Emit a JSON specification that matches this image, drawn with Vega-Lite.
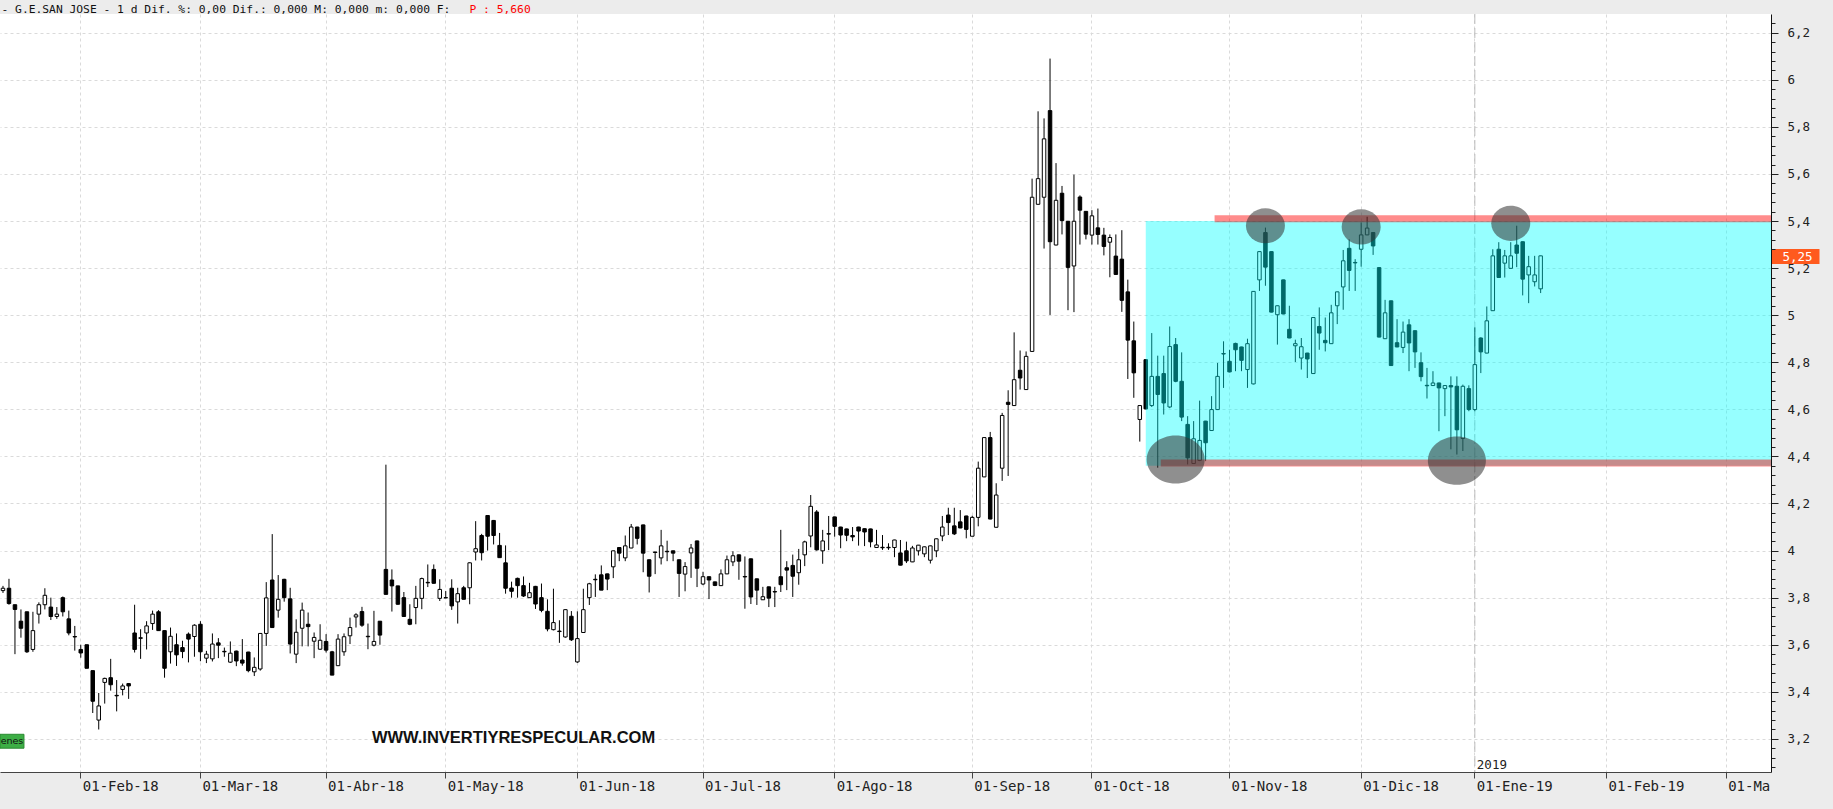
{
  "$schema": "https://vega.github.io/schema/vega-lite/v6.json",
  "width": 1771,
  "height": 758,
  "autosize": {"type": "none"},
  "padding": {"left": 0, "top": 14, "right": 62, "bottom": 37},
  "background": "#ececec",
  "config": {"view": {"fill": "#ffffff", "stroke": null}},
  "data": {"values": [
    {"date":"2018-01-15","open":3.83,"high":3.85,"low":3.82,"close":3.84},
    {"date":"2018-01-16","open":3.84,"high":3.88,"low":3.77,"close":3.775},
    {"date":"2018-01-17","open":3.77,"high":3.77,"low":3.56,"close":3.75},
    {"date":"2018-01-18","open":3.70,"high":3.75,"low":3.63,"close":3.67},
    {"date":"2018-01-19","open":3.74,"high":3.74,"low":3.565,"close":3.57},
    {"date":"2018-01-22","open":3.58,"high":3.74,"low":3.57,"close":3.66},
    {"date":"2018-01-23","open":3.73,"high":3.78,"low":3.69,"close":3.77},
    {"date":"2018-01-24","open":3.77,"high":3.84,"low":3.75,"close":3.81},
    {"date":"2018-01-25","open":3.76,"high":3.80,"low":3.705,"close":3.72},
    {"date":"2018-01-26","open":3.72,"high":3.76,"low":3.71,"close":3.73},
    {"date":"2018-01-29","open":3.80,"high":3.805,"low":3.72,"close":3.74},
    {"date":"2018-01-30","open":3.71,"high":3.745,"low":3.64,"close":3.65},
    {"date":"2018-01-31","open":3.635,"high":3.68,"low":3.575,"close":3.633},
    {"date":"2018-02-01","open":3.58,"high":3.60,"low":3.545,"close":3.565},
    {"date":"2018-02-02","open":3.60,"high":3.60,"low":3.50,"close":3.50},
    {"date":"2018-02-05","open":3.49,"high":3.49,"low":3.31,"close":3.36},
    {"date":"2018-02-06","open":3.28,"high":3.395,"low":3.24,"close":3.34},
    {"date":"2018-02-07","open":3.44,"high":3.46,"low":3.35,"close":3.457},
    {"date":"2018-02-08","open":3.46,"high":3.54,"low":3.405,"close":3.43},
    {"date":"2018-02-09","open":3.385,"high":3.45,"low":3.317,"close":3.383},
    {"date":"2018-02-12","open":3.41,"high":3.435,"low":3.385,"close":3.425},
    {"date":"2018-02-13","open":3.435,"high":3.437,"low":3.37,"close":3.425},
    {"date":"2018-02-14","open":3.65,"high":3.77,"low":3.567,"close":3.58},
    {"date":"2018-02-15","open":3.627,"high":3.666,"low":3.54,"close":3.63},
    {"date":"2018-02-16","open":3.65,"high":3.70,"low":3.58,"close":3.68},
    {"date":"2018-02-19","open":3.69,"high":3.745,"low":3.663,"close":3.73},
    {"date":"2018-02-20","open":3.74,"high":3.747,"low":3.66,"close":3.66},
    {"date":"2018-02-21","open":3.66,"high":3.66,"low":3.46,"close":3.50},
    {"date":"2018-02-22","open":3.57,"high":3.673,"low":3.52,"close":3.636},
    {"date":"2018-02-23","open":3.60,"high":3.648,"low":3.51,"close":3.557},
    {"date":"2018-02-26","open":3.588,"high":3.617,"low":3.543,"close":3.571},
    {"date":"2018-02-27","open":3.645,"high":3.652,"low":3.525,"close":3.624},
    {"date":"2018-02-28","open":3.635,"high":3.687,"low":3.549,"close":3.683},
    {"date":"2018-03-01","open":3.687,"high":3.70,"low":3.53,"close":3.57},
    {"date":"2018-03-02","open":3.543,"high":3.574,"low":3.522,"close":3.56},
    {"date":"2018-03-05","open":3.54,"high":3.648,"low":3.529,"close":3.603},
    {"date":"2018-03-06","open":3.608,"high":3.628,"low":3.543,"close":3.598},
    {"date":"2018-03-07","open":3.572,"high":3.588,"low":3.549,"close":3.570},
    {"date":"2018-03-08","open":3.526,"high":3.614,"low":3.523,"close":3.564},
    {"date":"2018-03-09","open":3.573,"high":3.575,"low":3.509,"close":3.531},
    {"date":"2018-03-12","open":3.535,"high":3.624,"low":3.511,"close":3.522},
    {"date":"2018-03-13","open":3.569,"high":3.57,"low":3.483,"close":3.49},
    {"date":"2018-03-14","open":3.485,"high":3.546,"low":3.467,"close":3.504},
    {"date":"2018-03-15","open":3.497,"high":3.65,"low":3.49,"close":3.648},
    {"date":"2018-03-16","open":3.648,"high":3.866,"low":3.595,"close":3.799},
    {"date":"2018-03-19","open":3.875,"high":4.07,"low":3.673,"close":3.673},
    {"date":"2018-03-20","open":3.747,"high":3.896,"low":3.715,"close":3.793},
    {"date":"2018-03-21","open":3.878,"high":3.88,"low":3.783,"close":3.80},
    {"date":"2018-03-22","open":3.795,"high":3.842,"low":3.563,"close":3.603},
    {"date":"2018-03-23","open":3.56,"high":3.708,"low":3.522,"close":3.653},
    {"date":"2018-03-26","open":3.67,"high":3.779,"low":3.593,"close":3.747},
    {"date":"2018-03-27","open":3.687,"high":3.737,"low":3.593,"close":3.677},
    {"date":"2018-03-28","open":3.615,"high":3.652,"low":3.543,"close":3.631},
    {"date":"2018-03-29","open":3.581,"high":3.687,"low":3.579,"close":3.619},
    {"date":"2018-04-03","open":3.614,"high":3.645,"low":3.567,"close":3.577},
    {"date":"2018-04-04","open":3.57,"high":3.574,"low":3.471,"close":3.471},
    {"date":"2018-04-05","open":3.511,"high":3.645,"low":3.511,"close":3.624},
    {"date":"2018-04-06","open":3.57,"high":3.648,"low":3.553,"close":3.634},
    {"date":"2018-04-09","open":3.638,"high":3.715,"low":3.603,"close":3.673},
    {"date":"2018-04-10","open":3.718,"high":3.734,"low":3.673,"close":3.727},
    {"date":"2018-04-11","open":3.741,"high":3.761,"low":3.676,"close":3.683},
    {"date":"2018-04-12","open":3.636,"high":3.69,"low":3.581,"close":3.634},
    {"date":"2018-04-13","open":3.598,"high":3.744,"low":3.593,"close":3.614},
    {"date":"2018-04-16","open":3.70,"high":3.70,"low":3.60,"close":3.641},
    {"date":"2018-04-17","open":3.92,"high":4.365,"low":3.814,"close":3.814},
    {"date":"2018-04-18","open":3.875,"high":3.92,"low":3.741,"close":3.85},
    {"date":"2018-04-19","open":3.85,"high":3.85,"low":3.77,"close":3.772},
    {"date":"2018-04-20","open":3.80,"high":3.824,"low":3.72,"close":3.72},
    {"date":"2018-04-23","open":3.708,"high":3.772,"low":3.683,"close":3.687},
    {"date":"2018-04-24","open":3.758,"high":3.85,"low":3.687,"close":3.797},
    {"date":"2018-04-25","open":3.797,"high":3.885,"low":3.751,"close":3.881},
    {"date":"2018-04-26","open":3.865,"high":3.941,"low":3.845,"close":3.863},
    {"date":"2018-04-27","open":3.92,"high":3.941,"low":3.86,"close":3.861},
    {"date":"2018-04-30","open":3.797,"high":3.878,"low":3.786,"close":3.835},
    {"date":"2018-05-02","open":3.80,"high":3.828,"low":3.798,"close":3.799},
    {"date":"2018-05-03","open":3.84,"high":3.878,"low":3.748,"close":3.765},
    {"date":"2018-05-04","open":3.782,"high":3.842,"low":3.69,"close":3.817},
    {"date":"2018-05-07","open":3.842,"high":3.85,"low":3.793,"close":3.793},
    {"date":"2018-05-08","open":3.842,"high":3.95,"low":3.772,"close":3.948},
    {"date":"2018-05-09","open":3.994,"high":4.125,"low":3.958,"close":4.008},
    {"date":"2018-05-10","open":4.064,"high":4.071,"low":3.958,"close":3.991},
    {"date":"2018-05-11","open":4.149,"high":4.15,"low":4.0,"close":4.061},
    {"date":"2018-05-14","open":4.128,"high":4.13,"low":4.026,"close":4.064},
    {"date":"2018-05-15","open":4.022,"high":4.075,"low":3.97,"close":3.97},
    {"date":"2018-05-16","open":3.948,"high":4.022,"low":3.817,"close":3.84},
    {"date":"2018-05-17","open":3.841,"high":3.868,"low":3.80,"close":3.827},
    {"date":"2018-05-18","open":3.882,"high":3.885,"low":3.80,"close":3.851},
    {"date":"2018-05-21","open":3.851,"high":3.890,"low":3.803,"close":3.807},
    {"date":"2018-05-22","open":3.80,"high":3.863,"low":3.80,"close":3.821},
    {"date":"2018-05-23","open":3.848,"high":3.85,"low":3.752,"close":3.773},
    {"date":"2018-05-24","open":3.80,"high":3.86,"low":3.738,"close":3.746},
    {"date":"2018-05-25","open":3.742,"high":3.793,"low":3.657,"close":3.667},
    {"date":"2018-05-28","open":3.664,"high":3.838,"low":3.661,"close":3.694},
    {"date":"2018-05-29","open":3.658,"high":3.704,"low":3.608,"close":3.656},
    {"date":"2018-05-30","open":3.633,"high":3.75,"low":3.63,"close":3.749},
    {"date":"2018-05-31","open":3.721,"high":3.743,"low":3.616,"close":3.621},
    {"date":"2018-06-01","open":3.527,"high":3.742,"low":3.523,"close":3.626},
    {"date":"2018-06-04","open":3.652,"high":3.838,"low":3.65,"close":3.749},
    {"date":"2018-06-05","open":3.80,"high":3.863,"low":3.769,"close":3.859},
    {"date":"2018-06-06","open":3.878,"high":3.899,"low":3.803,"close":3.876},
    {"date":"2018-06-07","open":3.897,"high":3.937,"low":3.832,"close":3.832},
    {"date":"2018-06-08","open":3.901,"high":3.902,"low":3.832,"close":3.879},
    {"date":"2018-06-11","open":3.931,"high":4.0,"low":3.883,"close":3.999},
    {"date":"2018-06-12","open":4.013,"high":4.014,"low":3.955,"close":3.989},
    {"date":"2018-06-13","open":3.969,"high":4.064,"low":3.955,"close":4.020},
    {"date":"2018-06-14","open":4.011,"high":4.113,"low":4.01,"close":4.10},
    {"date":"2018-06-15","open":4.10,"high":4.101,"low":4.026,"close":4.052},
    {"date":"2018-06-18","open":4.109,"high":4.11,"low":3.908,"close":3.989},
    {"date":"2018-06-19","open":3.961,"high":3.962,"low":3.822,"close":3.891},
    {"date":"2018-06-20","open":3.994,"high":3.994,"low":3.90,"close":3.992},
    {"date":"2018-06-21","open":3.969,"high":4.088,"low":3.941,"close":4.020},
    {"date":"2018-06-22","open":3.997,"high":4.042,"low":3.955,"close":3.995},
    {"date":"2018-06-25","open":3.999,"high":4.0,"low":3.955,"close":3.989},
    {"date":"2018-06-26","open":3.961,"high":3.962,"low":3.803,"close":3.903},
    {"date":"2018-06-27","open":3.90,"high":3.951,"low":3.827,"close":3.932},
    {"date":"2018-06-28","open":3.99,"high":4.028,"low":3.884,"close":4.011},
    {"date":"2018-06-29","open":4.041,"high":4.042,"low":3.845,"close":3.925},
    {"date":"2018-07-02","open":3.858,"high":3.91,"low":3.853,"close":3.889},
    {"date":"2018-07-03","open":3.889,"high":3.89,"low":3.794,"close":3.875},
    {"date":"2018-07-04","open":3.867,"high":3.868,"low":3.849,"close":3.852},
    {"date":"2018-07-05","open":3.851,"high":3.92,"low":3.85,"close":3.901},
    {"date":"2018-07-06","open":3.901,"high":3.979,"low":3.90,"close":3.961},
    {"date":"2018-07-09","open":3.952,"high":3.997,"low":3.934,"close":3.978},
    {"date":"2018-07-10","open":3.982,"high":3.983,"low":3.876,"close":3.955},
    {"date":"2018-07-11","open":3.89,"high":3.975,"low":3.753,"close":3.888},
    {"date":"2018-07-12","open":3.965,"high":3.966,"low":3.773,"close":3.803},
    {"date":"2018-07-13","open":3.88,"high":3.881,"low":3.769,"close":3.832},
    {"date":"2018-07-16","open":3.791,"high":3.846,"low":3.79,"close":3.804},
    {"date":"2018-07-17","open":3.846,"high":3.847,"low":3.76,"close":3.798},
    {"date":"2018-07-18","open":3.826,"high":3.846,"low":3.76,"close":3.824},
    {"date":"2018-07-19","open":3.889,"high":4.088,"low":3.824,"close":3.855},
    {"date":"2018-07-20","open":3.927,"high":3.955,"low":3.832,"close":3.917},
    {"date":"2018-07-23","open":3.937,"high":3.983,"low":3.803,"close":3.891},
    {"date":"2018-07-24","open":3.906,"high":4.007,"low":3.855,"close":3.961},
    {"date":"2018-07-25","open":3.982,"high":4.042,"low":3.934,"close":4.037},
    {"date":"2018-07-26","open":4.062,"high":4.236,"low":4.014,"close":4.188},
    {"date":"2018-07-27","open":4.164,"high":4.172,"low":4.0,"close":4.003},
    {"date":"2018-07-30","open":3.999,"high":4.088,"low":3.944,"close":4.041},
    {"date":"2018-07-31","open":4.072,"high":4.147,"low":4.002,"close":4.070},
    {"date":"2018-08-01","open":4.143,"high":4.144,"low":4.059,"close":4.103},
    {"date":"2018-08-02","open":4.10,"high":4.101,"low":4.01,"close":4.066},
    {"date":"2018-08-03","open":4.092,"high":4.093,"low":4.04,"close":4.065},
    {"date":"2018-08-06","open":4.064,"high":4.10,"low":4.04,"close":4.058},
    {"date":"2018-08-07","open":4.10,"high":4.101,"low":4.021,"close":4.083},
    {"date":"2018-08-08","open":4.093,"high":4.094,"low":4.019,"close":4.079},
    {"date":"2018-08-09","open":4.092,"high":4.093,"low":4.014,"close":4.037},
    {"date":"2018-08-10","open":4.013,"high":4.088,"low":4.012,"close":4.024},
    {"date":"2018-08-13","open":4.014,"high":4.066,"low":4.003,"close":4.012},
    {"date":"2018-08-14","open":4.014,"high":4.031,"low":4.003,"close":4.012},
    {"date":"2018-08-15","open":4.013,"high":4.046,"low":3.972,"close":4.045},
    {"date":"2018-08-16","open":3.99,"high":4.045,"low":3.937,"close":3.938},
    {"date":"2018-08-17","open":3.999,"high":4.038,"low":3.947,"close":3.956},
    {"date":"2018-08-20","open":3.952,"high":4.02,"low":3.951,"close":4.011},
    {"date":"2018-08-21","open":3.999,"high":4.024,"low":3.979,"close":4.023},
    {"date":"2018-08-22","open":3.986,"high":4.017,"low":3.972,"close":4.016},
    {"date":"2018-08-23","open":3.959,"high":4.021,"low":3.945,"close":4.02},
    {"date":"2018-08-24","open":3.999,"high":4.051,"low":3.972,"close":4.05},
    {"date":"2018-08-27","open":4.062,"high":4.147,"low":4.04,"close":4.10},
    {"date":"2018-08-28","open":4.151,"high":4.182,"low":4.066,"close":4.119},
    {"date":"2018-08-29","open":4.105,"high":4.182,"low":4.066,"close":4.071},
    {"date":"2018-08-30","open":4.122,"high":4.172,"low":4.095,"close":4.096},
    {"date":"2018-08-31","open":4.147,"high":4.148,"low":4.052,"close":4.09},
    {"date":"2018-09-03","open":4.061,"high":4.148,"low":4.061,"close":4.141},
    {"date":"2018-09-04","open":4.141,"high":4.378,"low":4.103,"close":4.350},
    {"date":"2018-09-05","open":4.313,"high":4.481,"low":4.312,"close":4.480},
    {"date":"2018-09-06","open":4.480,"high":4.504,"low":4.133,"close":4.134},
    {"date":"2018-09-07","open":4.099,"high":4.286,"low":4.098,"close":4.236},
    {"date":"2018-09-10","open":4.350,"high":4.585,"low":4.296,"close":4.574},
    {"date":"2018-09-11","open":4.630,"high":4.681,"low":4.317,"close":4.621},
    {"date":"2018-09-12","open":4.616,"high":4.927,"low":4.615,"close":4.726},
    {"date":"2018-09-13","open":4.766,"high":4.850,"low":4.684,"close":4.733},
    {"date":"2018-09-14","open":4.684,"high":4.846,"low":4.683,"close":4.825},
    {"date":"2018-09-17","open":4.846,"high":5.580,"low":4.845,"close":5.501},
    {"date":"2018-09-18","open":5.471,"high":5.866,"low":5.47,"close":5.580},
    {"date":"2018-09-19","open":5.501,"high":5.836,"low":5.283,"close":5.749},
    {"date":"2018-09-20","open":5.869,"high":6.090,"low":5.001,"close":5.312},
    {"date":"2018-09-21","open":5.298,"high":5.646,"low":5.297,"close":5.488},
    {"date":"2018-09-24","open":5.518,"high":5.549,"low":5.343,"close":5.402},
    {"date":"2018-09-25","open":5.399,"high":5.40,"low":5.021,"close":5.203},
    {"date":"2018-09-26","open":5.209,"high":5.597,"low":5.013,"close":5.399},
    {"date":"2018-09-27","open":5.502,"high":5.509,"low":5.300,"close":5.446},
    {"date":"2018-09-28","open":5.441,"high":5.442,"low":5.322,"close":5.344},
    {"date":"2018-10-01","open":5.340,"high":5.446,"low":5.300,"close":5.422},
    {"date":"2018-10-02","open":5.371,"high":5.453,"low":5.30,"close":5.343},
    {"date":"2018-10-03","open":5.340,"high":5.371,"low":5.254,"close":5.292},
    {"date":"2018-10-04","open":5.310,"high":5.343,"low":5.161,"close":5.330},
    {"date":"2018-10-05","open":5.251,"high":5.343,"low":5.172,"close":5.173},
    {"date":"2018-10-08","open":5.238,"high":5.361,"low":5.014,"close":5.063},
    {"date":"2018-10-09","open":5.099,"high":5.151,"low":4.729,"close":4.894},
    {"date":"2018-10-10","open":4.891,"high":4.973,"low":4.649,"close":4.755},
    {"date":"2018-10-11","open":4.557,"high":4.617,"low":4.463,"close":4.616},
    {"date":"2018-10-12","open":4.811,"high":4.812,"low":4.60,"close":4.602},
    {"date":"2018-10-15","open":4.616,"high":4.924,"low":4.61,"close":4.740},
    {"date":"2018-10-16","open":4.740,"high":4.828,"low":4.352,"close":4.663},
    {"date":"2018-10-17","open":4.752,"high":4.828,"low":4.578,"close":4.627},
    {"date":"2018-10-18","open":4.61,"high":4.952,"low":4.605,"close":4.867},
    {"date":"2018-10-19","open":4.875,"high":4.903,"low":4.715,"close":4.719},
    {"date":"2018-10-22","open":4.719,"high":4.842,"low":4.55,"close":4.567},
    {"date":"2018-10-23","open":4.536,"high":4.571,"low":4.366,"close":4.394},
    {"date":"2018-10-24","open":4.370,"high":4.55,"low":4.368,"close":4.475},
    {"date":"2018-10-25","open":4.383,"high":4.637,"low":4.38,"close":4.468},
    {"date":"2018-10-26","open":4.55,"high":4.551,"low":4.38,"close":4.458},
    {"date":"2018-10-29","open":4.510,"high":4.656,"low":4.508,"close":4.599},
    {"date":"2018-10-30","open":4.599,"high":4.797,"low":4.597,"close":4.740},
    {"date":"2018-10-31","open":4.837,"high":4.889,"low":4.691,"close":4.835},
    {"date":"2018-11-01","open":4.804,"high":4.853,"low":4.757,"close":4.759},
    {"date":"2018-11-02","open":4.880,"high":4.883,"low":4.762,"close":4.853},
    {"date":"2018-11-05","open":4.865,"high":4.866,"low":4.762,"close":4.808},
    {"date":"2018-11-06","open":4.769,"high":4.90,"low":4.691,"close":4.879},
    {"date":"2018-11-07","open":4.708,"high":5.102,"low":4.706,"close":5.101},
    {"date":"2018-11-08","open":5.150,"high":5.271,"low":5.103,"close":5.270},
    {"date":"2018-11-09","open":5.351,"high":5.372,"low":5.125,"close":5.204},
    {"date":"2018-11-12","open":5.270,"high":5.271,"low":5.012,"close":5.013},
    {"date":"2018-11-13","open":5.002,"high":5.041,"low":4.875,"close":5.040},
    {"date":"2018-11-14","open":5.150,"high":5.151,"low":5.004,"close":5.005},
    {"date":"2018-11-15","open":4.940,"high":5.040,"low":4.902,"close":4.903},
    {"date":"2018-11-16","open":4.870,"high":4.896,"low":4.801,"close":4.879},
    {"date":"2018-11-19","open":4.818,"high":4.903,"low":4.769,"close":4.866},
    {"date":"2018-11-20","open":4.839,"high":4.84,"low":4.733,"close":4.814},
    {"date":"2018-11-21","open":4.752,"high":4.991,"low":4.751,"close":4.990},
    {"date":"2018-11-22","open":4.952,"high":5.033,"low":4.853,"close":4.924},
    {"date":"2018-11-23","open":4.893,"high":4.990,"low":4.846,"close":4.883},
    {"date":"2018-11-26","open":4.879,"high":5.044,"low":4.878,"close":5.010},
    {"date":"2018-11-27","open":5.040,"high":5.10,"low":4.962,"close":5.099},
    {"date":"2018-11-28","open":5.120,"high":5.277,"low":5.023,"close":5.231},
    {"date":"2018-11-29","open":5.284,"high":5.322,"low":5.103,"close":5.190},
    {"date":"2018-11-30","open":5.224,"high":5.238,"low":5.103,"close":5.222},
    {"date":"2018-12-03","open":5.280,"high":5.394,"low":5.206,"close":5.341},
    {"date":"2018-12-04","open":5.341,"high":5.418,"low":5.34,"close":5.370},
    {"date":"2018-12-05","open":5.351,"high":5.352,"low":5.256,"close":5.294},
    {"date":"2018-12-06","open":5.202,"high":5.203,"low":4.906,"close":4.907},
    {"date":"2018-12-07","open":4.90,"high":5.065,"low":4.899,"close":5.010},
    {"date":"2018-12-10","open":5.061,"high":5.062,"low":4.785,"close":4.786},
    {"date":"2018-12-11","open":4.883,"high":4.983,"low":4.864,"close":4.865},
    {"date":"2018-12-12","open":4.863,"high":4.973,"low":4.839,"close":4.928},
    {"date":"2018-12-13","open":4.959,"high":4.983,"low":4.762,"close":4.882},
    {"date":"2018-12-14","open":4.934,"high":4.935,"low":4.776,"close":4.844},
    {"date":"2018-12-17","open":4.798,"high":4.842,"low":4.719,"close":4.739},
    {"date":"2018-12-18","open":4.702,"high":4.776,"low":4.646,"close":4.700},
    {"date":"2018-12-19","open":4.701,"high":4.762,"low":4.70,"close":4.712},
    {"date":"2018-12-20","open":4.712,"high":4.713,"low":4.507,"close":4.691},
    {"date":"2018-12-21","open":4.688,"high":4.702,"low":4.571,"close":4.701},
    {"date":"2018-12-24","open":4.701,"high":4.740,"low":4.430,"close":4.695},
    {"date":"2018-12-27","open":4.698,"high":4.740,"low":4.408,"close":4.513},
    {"date":"2018-12-28","open":4.476,"high":4.705,"low":4.423,"close":4.698},
    {"date":"2018-12-31","open":4.688,"high":4.702,"low":4.592,"close":4.599},
    {"date":"2019-01-02","open":4.599,"high":4.948,"low":4.592,"close":4.790},
    {"date":"2019-01-03","open":4.903,"high":4.906,"low":4.754,"close":4.844},
    {"date":"2019-01-04","open":4.839,"high":5.037,"low":4.838,"close":4.976},
    {"date":"2019-01-07","open":5.019,"high":5.280,"low":5.018,"close":5.252},
    {"date":"2019-01-08","open":5.280,"high":5.310,"low":5.159,"close":5.160},
    {"date":"2019-01-09","open":5.221,"high":5.277,"low":5.160,"close":5.252},
    {"date":"2019-01-10","open":5.199,"high":5.310,"low":5.198,"close":5.252},
    {"date":"2019-01-11","open":5.298,"high":5.380,"low":5.204,"close":5.263},
    {"date":"2019-01-14","open":5.312,"high":5.313,"low":5.084,"close":5.153},
    {"date":"2019-01-15","open":5.171,"high":5.252,"low":5.051,"close":5.206},
    {"date":"2019-01-16","open":5.142,"high":5.252,"low":5.122,"close":5.171},
    {"date":"2019-01-17","open":5.112,"high":5.253,"low":5.094,"close":5.252}
  ]},
  "encoding": {
    "x": {
      "field": "date",
      "type": "ordinal",
      "title": "- G.E.SAN JOSE -   1 d Dif. %: 0,00 Dif.: 0,000 M: 0,000 m: 0,000 F:",
      "scale": {
        "type": "band",
        "paddingInner": 0,
        "paddingOuter": 0,
        "domain": [
          "2018-01-15","2018-01-16","2018-01-17","2018-01-18","2018-01-19","2018-01-22","2018-01-23","2018-01-24","2018-01-25","2018-01-26","2018-01-29","2018-01-30","2018-01-31",
          "2018-02-01","2018-02-02","2018-02-05","2018-02-06","2018-02-07","2018-02-08","2018-02-09","2018-02-12","2018-02-13","2018-02-14","2018-02-15","2018-02-16","2018-02-19","2018-02-20","2018-02-21","2018-02-22","2018-02-23","2018-02-26","2018-02-27","2018-02-28",
          "2018-03-01","2018-03-02","2018-03-05","2018-03-06","2018-03-07","2018-03-08","2018-03-09","2018-03-12","2018-03-13","2018-03-14","2018-03-15","2018-03-16","2018-03-19","2018-03-20","2018-03-21","2018-03-22","2018-03-23","2018-03-26","2018-03-27","2018-03-28","2018-03-29",
          "2018-04-03","2018-04-04","2018-04-05","2018-04-06","2018-04-09","2018-04-10","2018-04-11","2018-04-12","2018-04-13","2018-04-16","2018-04-17","2018-04-18","2018-04-19","2018-04-20","2018-04-23","2018-04-24","2018-04-25","2018-04-26","2018-04-27","2018-04-30",
          "2018-05-02","2018-05-03","2018-05-04","2018-05-07","2018-05-08","2018-05-09","2018-05-10","2018-05-11","2018-05-14","2018-05-15","2018-05-16","2018-05-17","2018-05-18","2018-05-21","2018-05-22","2018-05-23","2018-05-24","2018-05-25","2018-05-28","2018-05-29","2018-05-30","2018-05-31",
          "2018-06-01","2018-06-04","2018-06-05","2018-06-06","2018-06-07","2018-06-08","2018-06-11","2018-06-12","2018-06-13","2018-06-14","2018-06-15","2018-06-18","2018-06-19","2018-06-20","2018-06-21","2018-06-22","2018-06-25","2018-06-26","2018-06-27","2018-06-28","2018-06-29",
          "2018-07-02","2018-07-03","2018-07-04","2018-07-05","2018-07-06","2018-07-09","2018-07-10","2018-07-11","2018-07-12","2018-07-13","2018-07-16","2018-07-17","2018-07-18","2018-07-19","2018-07-20","2018-07-23","2018-07-24","2018-07-25","2018-07-26","2018-07-27","2018-07-30","2018-07-31",
          "2018-08-01","2018-08-02","2018-08-03","2018-08-06","2018-08-07","2018-08-08","2018-08-09","2018-08-10","2018-08-13","2018-08-14","2018-08-15","2018-08-16","2018-08-17","2018-08-20","2018-08-21","2018-08-22","2018-08-23","2018-08-24","2018-08-27","2018-08-28","2018-08-29","2018-08-30","2018-08-31",
          "2018-09-03","2018-09-04","2018-09-05","2018-09-06","2018-09-07","2018-09-10","2018-09-11","2018-09-12","2018-09-13","2018-09-14","2018-09-17","2018-09-18","2018-09-19","2018-09-20","2018-09-21","2018-09-24","2018-09-25","2018-09-26","2018-09-27","2018-09-28",
          "2018-10-01","2018-10-02","2018-10-03","2018-10-04","2018-10-05","2018-10-08","2018-10-09","2018-10-10","2018-10-11","2018-10-12","2018-10-15","2018-10-16","2018-10-17","2018-10-18","2018-10-19","2018-10-22","2018-10-23","2018-10-24","2018-10-25","2018-10-26","2018-10-29","2018-10-30","2018-10-31",
          "2018-11-01","2018-11-02","2018-11-05","2018-11-06","2018-11-07","2018-11-08","2018-11-09","2018-11-12","2018-11-13","2018-11-14","2018-11-15","2018-11-16","2018-11-19","2018-11-20","2018-11-21","2018-11-22","2018-11-23","2018-11-26","2018-11-27","2018-11-28","2018-11-29","2018-11-30",
          "2018-12-03","2018-12-04","2018-12-05","2018-12-06","2018-12-07","2018-12-10","2018-12-11","2018-12-12","2018-12-13","2018-12-14","2018-12-17","2018-12-18","2018-12-19","2018-12-20","2018-12-21","2018-12-24","2018-12-27","2018-12-28","2018-12-31",
          "2019-01-02","2019-01-03","2019-01-04","2019-01-07","2019-01-08","2019-01-09","2019-01-10","2019-01-11","2019-01-14","2019-01-15","2019-01-16","2019-01-17","2019-01-18","2019-01-21","2019-01-22","2019-01-23","2019-01-24","2019-01-25","2019-01-28","2019-01-29","2019-01-30","2019-01-31",
          "2019-02-01","2019-02-04","2019-02-05","2019-02-06","2019-02-07","2019-02-08","2019-02-11","2019-02-12","2019-02-13","2019-02-14","2019-02-15","2019-02-18","2019-02-19","2019-02-20","2019-02-21","2019-02-22","2019-02-25","2019-02-26","2019-02-27","2019-02-28",
          "2019-03-01","2019-03-04","2019-03-05","2019-03-06","2019-03-07","2019-03-08","2019-03-11","2019-03-12"
        ]
      },
      "axis": {
        "values": ["2018-02-01","2018-03-01","2018-04-03","2018-05-02","2018-06-01","2018-07-02","2018-08-01","2018-09-03","2018-10-01","2018-11-01","2018-12-03","2019-01-02","2019-02-01","2019-03-01"],
        "labelExpr": "datum.value == '2019-03-01' ? '01-Ma' : '01-' + ['Ene','Feb','Mar','Abr','May','Jun','Jul','Ago','Sep','Oct','Nov','Dic'][toNumber(substring(datum.value,5,7))-1] + '-' + substring(datum.value,2,4)",
        "bandPosition": 0.5,
        "labelAngle": 0,
        "labelAlign": "left",
        "labelBaseline": "top",
        "labelPadding": 1,
        "labelOffset": 2,
        "labelOverlap": false,
        "labelBound": false,
        "labelFont": "DejaVu Sans Mono",
        "labelFontSize": 14,
        "labelColor": "#222222",
        "tickSize": 6,
        "tickColor": "#444444",
        "domainColor": "#444444",
        "grid": true,
        "gridColor": "#dadada",
        "gridDash": [3, 3],
        "titleX": 1,
        "titleY": -760,
        "titleAlign": "left",
        "titleAnchor": "start",
        "titleBaseline": "alphabetic",
        "titleAngle": 0,
        "titleFont": "DejaVu Sans Mono",
        "titleFontSize": 11.3,
        "titleFontWeight": "normal",
        "titleColor": "#111111"
      }
    }
  },
  "layer": [
    {
      "data": {"values": [{"date": "2019-01-02"}]},
      "mark": {"type": "rule", "stroke": "#bdbdbd", "strokeWidth": 1, "strokeDash": [10, 4]},
      "encoding": {}
    },
    {
      "mark": {"type": "rule", "color": "#000000", "strokeWidth": 1},
      "encoding": {
        "y": {
          "field": "low",
          "type": "quantitative",
          "title": "P : 5,660",
          "scale": {"domain": [3.0594, 6.2794], "nice": false, "zero": false},
          "axis": {
            "orient": "right",
            "tickCount": 500,
            "values": [3.08,3.12,3.16,3.2,3.24,3.28,3.32,3.36,3.4,3.44,3.48,3.52,3.56,3.6,3.64,3.68,3.72,3.76,3.8,3.84,3.88,3.92,3.96,4,4.04,4.08,4.12,4.16,4.2,4.24,4.28,4.32,4.36,4.4,4.44,4.48,4.52,4.56,4.6,4.64,4.68,4.72,4.76,4.8,4.84,4.88,4.92,4.96,5,5.04,5.08,5.12,5.16,5.2,5.24,5.25,5.28,5.32,5.36,5.4,5.44,5.48,5.52,5.56,5.6,5.64,5.68,5.72,5.76,5.8,5.84,5.88,5.92,5.96,6,6.04,6.08,6.12,6.16,6.2,6.24],
            "labelExpr": "datum.value == 5.25 ? '5,25' : (abs(datum.value*5 - round(datum.value*5)) < 0.001 ? replace(format(datum.value, '.1~f'), '.', ',') : '')",
            "labelOverlap": false,
            "labelBound": false,
            "labelFont": "DejaVu Sans Mono",
            "labelFontSize": 12.5,
            "labelPadding": {"condition": {"test": "datum.value == 5.25", "value": -37}, "value": 9},
            "labelColor": {"condition": {"test": "datum.value == 5.25", "value": "#ffffff"}, "value": "#222222"},
            "tickSize": {"condition": [{"test": "datum.value == 5.25", "value": 48}, {"test": "abs(datum.value*5 - round(datum.value*5)) < 0.001", "value": 7}], "value": 4},
            "tickWidth": {"condition": {"test": "datum.value == 5.25", "value": 15}, "value": 1},
            "tickColor": {"condition": {"test": "datum.value == 5.25", "value": "#ff5a1e"}, "value": "#222222"},
            "domainColor": "#111111",
            "grid": true,
            "gridColor": "#dadada",
            "gridDash": [3, 3],
            "gridOpacity": {"condition": {"test": "abs(datum.value*5 - round(datum.value*5)) < 0.001", "value": 1}, "value": 0},
            "titleX": -1302,
            "titleY": -2,
            "titleAngle": 0,
            "titleAlign": "left",
            "titleBaseline": "alphabetic",
            "titleFont": "DejaVu Sans Mono",
            "titleFontSize": 11.3,
            "titleFontWeight": "normal",
            "titleColor": "#ff0000"
          }
        },
        "y2": {"field": "high"}
      }
    },
    {
      "mark": {"type": "bar", "size": 3.5, "stroke": "#000000", "strokeWidth": 1},
      "encoding": {
        "y": {"field": "open", "type": "quantitative", "title": "P : 5,660", "scale": {"domain": [3.0594, 6.2794], "nice": false, "zero": false}},
        "y2": {"field": "close"},
        "fill": {"condition": {"test": "datum.close >= datum.open", "value": "#ffffff"}, "value": "#000000"}
      }
    },
    {
      "data": {"values": [{"date": "2018-10-12", "end": "2019-03-12", "bottom": 4.36, "top": 5.40}]},
      "mark": {"type": "rect", "color": "#00ffff", "opacity": 0.41},
      "encoding": {
        "x": {"field": "date", "type": "ordinal", "bandPosition": 0.5, "title": "- G.E.SAN JOSE -   1 d Dif. %: 0,00 Dif.: 0,000 M: 0,000 m: 0,000 F:"},
        "x2": {"field": "end", "bandPosition": 1},
        "y": {"field": "bottom", "type": "quantitative", "title": "P : 5,660", "scale": {"domain": [3.0594, 6.2794], "nice": false, "zero": false}},
        "y2": {"field": "top"}
      }
    },
    {
      "data": {"values": [
        {"date": "2018-10-30", "end": "2019-03-12", "level": 5.41},
        {"date": "2018-10-17", "end": "2019-03-12", "level": 4.372}
      ]},
      "mark": {"type": "rule", "color": "#ff0000", "opacity": 0.45, "strokeWidth": 7},
      "encoding": {
        "x": {"field": "date", "type": "ordinal", "bandPosition": 0, "title": "- G.E.SAN JOSE -   1 d Dif. %: 0,00 Dif.: 0,000 M: 0,000 m: 0,000 F:"},
        "x2": {"field": "end", "bandPosition": 1},
        "y": {"field": "level", "type": "quantitative", "title": "P : 5,660", "scale": {"domain": [3.0594, 6.2794], "nice": false, "zero": false}}
      }
    },
    {
      "data": {"values": [
        {"date": "2018-10-19", "value": 4.387},
        {"date": "2018-12-27", "value": 4.382}
      ]},
      "mark": {"type": "point", "shape": "M-1,0A1,0.83 0 1,1 1,0A1,0.83 0 1,1 -1,0Z", "size": 3364, "filled": true, "color": "#333333", "opacity": 0.55, "strokeWidth": 0},
      "encoding": {
        "y": {"field": "value", "type": "quantitative", "title": "P : 5,660", "scale": {"domain": [3.0594, 6.2794], "nice": false, "zero": false}}
      }
    },
    {
      "data": {"values": [
        {"date": "2018-11-09", "value": 5.38},
        {"date": "2018-12-03", "value": 5.375},
        {"date": "2019-01-10", "value": 5.39}
      ]},
      "mark": {"type": "point", "shape": "M-1,0A1,0.9 0 1,1 1,0A1,0.9 0 1,1 -1,0Z", "size": 1521, "filled": true, "color": "#333333", "opacity": 0.55, "strokeWidth": 0},
      "encoding": {
        "y": {"field": "value", "type": "quantitative", "title": "P : 5,660", "scale": {"domain": [3.0594, 6.2794], "nice": false, "zero": false}}
      }
    },
    {
      "data": {"values": [{"date": "2018-04-13", "value": 3.182, "label": "WWW.INVERTIYRESPECULAR.COM"}]},
      "mark": {"type": "text", "align": "left", "baseline": "alphabetic", "dx": -2, "font": "Liberation Sans", "fontSize": 16.5, "fontWeight": "bold", "color": "#111111"},
      "encoding": {
        "y": {"field": "value", "type": "quantitative", "title": "P : 5,660", "scale": {"domain": [3.0594, 6.2794], "nice": false, "zero": false}},
        "text": {"field": "label"}
      }
    },
    {
      "data": {"values": [{"date": "2019-01-02", "value": 3.072, "label": "2019"}]},
      "mark": {"type": "text", "align": "left", "baseline": "alphabetic", "dx": 2, "font": "DejaVu Sans Mono", "fontSize": 12.5, "color": "#222222"},
      "encoding": {
        "y": {"field": "value", "type": "quantitative", "title": "P : 5,660", "scale": {"domain": [3.0594, 6.2794], "nice": false, "zero": false}},
        "text": {"field": "label"}
      }
    },
    {
      "data": {"values": [{"date": "2018-01-17", "value": 3.19, "label": "enes"}]},
      "mark": {"type": "point", "shape": "M-1,-0.58L1,-0.58L1,0.58L-1,0.58Z", "size": 576, "filled": true, "color": "#3dae45", "stroke": "#2a8a30", "strokeWidth": 1, "opacity": 1, "xOffset": -3},
      "encoding": {
        "y": {"field": "value", "type": "quantitative", "title": "P : 5,660", "scale": {"domain": [3.0594, 6.2794], "nice": false, "zero": false}}
      }
    },
    {
      "data": {"values": [{"date": "2018-01-17", "value": 3.19, "label": "enes"}]},
      "mark": {"type": "text", "align": "center", "baseline": "middle", "dx": -3, "font": "DejaVu Sans", "fontSize": 9.5, "color": "#111111"},
      "encoding": {
        "y": {"field": "value", "type": "quantitative", "title": "P : 5,660", "scale": {"domain": [3.0594, 6.2794], "nice": false, "zero": false}},
        "text": {"field": "label"}
      }
    }
  ]
}
